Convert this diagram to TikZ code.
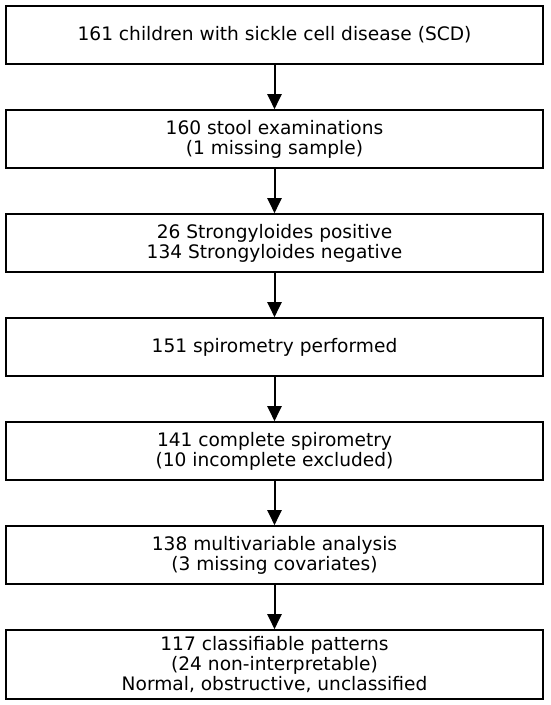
\documentclass[tikz,border=0pt]{standalone}
\usepackage{fontspec}
\setmainfont{DejaVu Sans}
\usetikzlibrary{arrows.meta}
\begin{document}
\begin{tikzpicture}[x=1pt,y=-1pt,
  flowbox/.style={draw=black,line width=1.6pt,minimum width=537pt,align=center,inner sep=0pt,
    font=\fontsize{18.6}{20.2}\selectfont},
  flowarrow/.style={line width=2pt,-{Triangle[width=14pt,length=15pt]}}]
\useasboundingbox (0,0) rectangle (550,705);
\node[flowbox,minimum height=58pt] (b1) at (274.5,35) {161 children with sickle cell disease (SCD)};
\node[flowbox,minimum height=58pt] (b2) at (274.5,139) {160 stool examinations\\(1 missing sample)};
\node[flowbox,minimum height=58pt] (b3) at (274.5,243) {26 Strongyloides positive\\134 Strongyloides negative};
\node[flowbox,minimum height=58pt] (b4) at (274.5,347) {151 spirometry performed};
\node[flowbox,minimum height=58pt] (b5) at (274.5,451) {141 complete spirometry\\(10 incomplete excluded)};
\node[flowbox,minimum height=58pt] (b6) at (274.5,555) {138 multivariable analysis\\(3 missing covariates)};
\node[flowbox,minimum height=69pt] (b7) at (274.5,664.5) {117 classifiable patterns\\(24 non-interpretable)\\Normal, obstructive, unclassified};
\foreach \a/\b in {b1/b2,b2/b3,b3/b4,b4/b5,b5/b6,b6/b7}
  \draw[flowarrow] (\a.south) -- (\b.north);
\end{tikzpicture}
\end{document}
